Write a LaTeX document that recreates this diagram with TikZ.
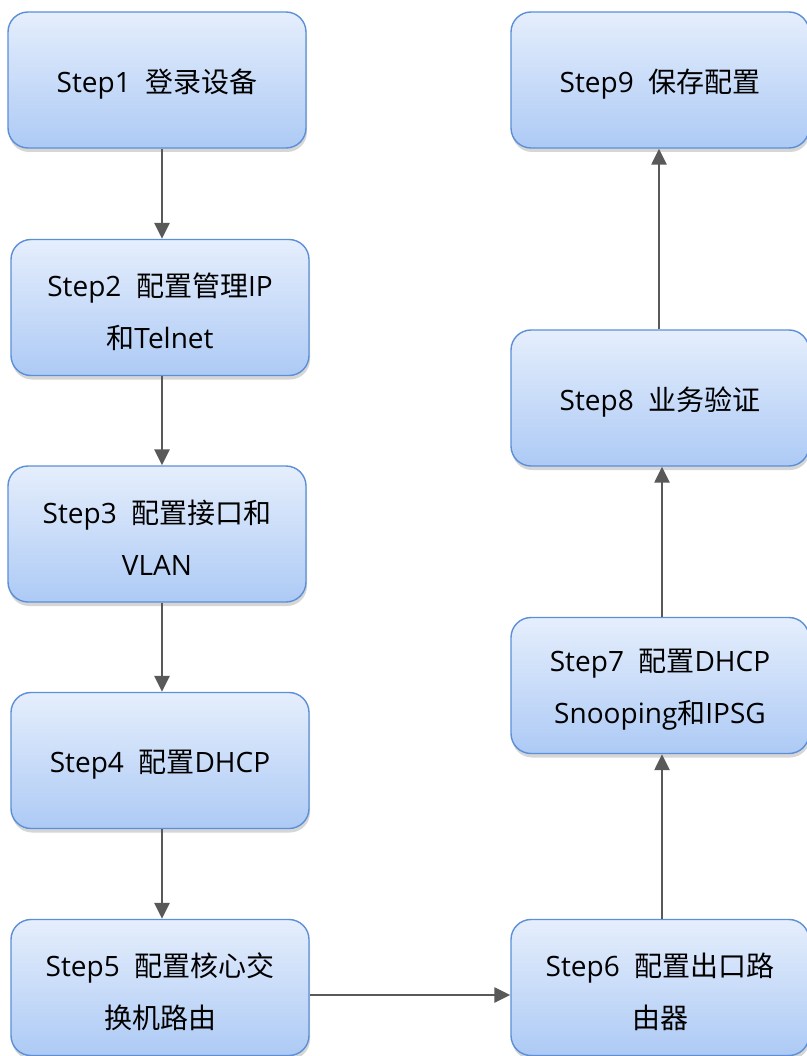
\documentclass[tikz,border=0pt]{standalone}
\usepackage{fontspec}
\setmainfont{Open Sans}
\newfontfamily\cjk{Noto Sans CJK SC}
\usetikzlibrary{arrows.meta,shadows}
\definecolor{boxtop}{HTML}{E5EEFC}
\definecolor{boxbot}{HTML}{ADCAF5}
\definecolor{boxline}{HTML}{5B90D7}
\definecolor{arrowgray}{HTML}{595959}
\tikzset{
  stepbox/.style={
    draw=boxline, line width=1.4pt, rounded corners=20pt,
    top color=boxtop, bottom color=boxbot,
    minimum width=298pt, minimum height=136pt, inner sep=0pt,
    drop shadow={shadow xshift=1pt, shadow yshift=-4pt, fill=black!45, opacity=0.35}
  },
  steptext/.style={inner sep=0pt, align=center, text=black,
    font=\fontsize{28}{52}\selectfont},
  flow/.style={draw=arrowgray, line width=2.5pt,
    -{Triangle[length=16pt,width=15pt]}}
}
\newcommand{\zh}[1]{{\cjk #1}}
\begin{document}
\begin{tikzpicture}[x=1pt,y=-1pt]
  \useasboundingbox (0,0) rectangle (806,1056);
  \fill[white] (0,0) rectangle (806,1056);

  % left column, top to bottom
  \node[stepbox] (s1) at (157,80)    {};
  \node[stepbox] (s2) at (160,307.5) {};
  \node[stepbox] (s3) at (157,534)   {};
  \node[stepbox] (s4) at (160,760.5) {};
  \node[stepbox] (s5) at (160,987.5) {};

  % right column, bottom to top
  \node[stepbox] (s6) at (660,987.5) {};
  \node[stepbox] (s7) at (660,685.5) {};
  \node[stepbox] (s8) at (660,398)   {};
  \node[stepbox] (s9) at (660,80)    {};

  % captions, set slightly below each box centre
  \node[steptext] (t1) at ([yshift=-4pt]s1.center) {Step1\ \ \zh{登录设备}};
  \node[steptext] (t2) at ([yshift=-4pt]s2.center) {Step2\ \ \zh{配置管理}IP\\\zh{和}Telnet};
  \node[steptext] (t3) at ([yshift=-4pt]s3.center) {Step3\ \ \zh{配置接口和}\\VLAN};
  \node[steptext] (t4) at ([yshift=-4pt]s4.center) {Step4\ \ \zh{配置}DHCP};
  \node[steptext] (t5) at ([yshift=-4pt]s5.center) {Step5\ \ \zh{配置核心交}\\\zh{换机路由}};
  \node[steptext] (t6) at ([yshift=-4pt]s6.center) {Step6\ \ \zh{配置出口路}\\\zh{由器}};
  \node[steptext] (t7) at ([yshift=-4pt]s7.center) {Step7\ \ \zh{配置}DHCP\\Snooping\zh{和}IPSG};
  \node[steptext] (t8) at ([yshift=-4pt]s8.center) {Step8\ \ \zh{业务验证}};
  \node[steptext] (t9) at ([yshift=-4pt]s9.center) {Step9\ \ \zh{保存配置}};

  % connector lanes
  \coordinate (lx) at (162,0);
  \coordinate (rx) at (662,0);
  \coordinate (tx) at (659,0);
  \coordinate (hy) at (0,995);

  \draw[flow] (s1.south -| lx) -- (s2.north -| lx);
  \draw[flow] (s2.south -| lx) -- (s3.north -| lx);
  \draw[flow] (s3.south -| lx) -- (s4.north -| lx);
  \draw[flow] (s4.south -| lx) -- (s5.north -| lx);
  \draw[flow] (s5.east |- hy) -- (s6.west |- hy);
  \draw[flow] (s6.north -| rx) -- (s7.south -| rx);
  \draw[flow] (s7.north -| rx) -- (s8.south -| rx);
  \draw[flow] (s8.north -| tx) -- (s9.south -| tx);
\end{tikzpicture}
\end{document}
